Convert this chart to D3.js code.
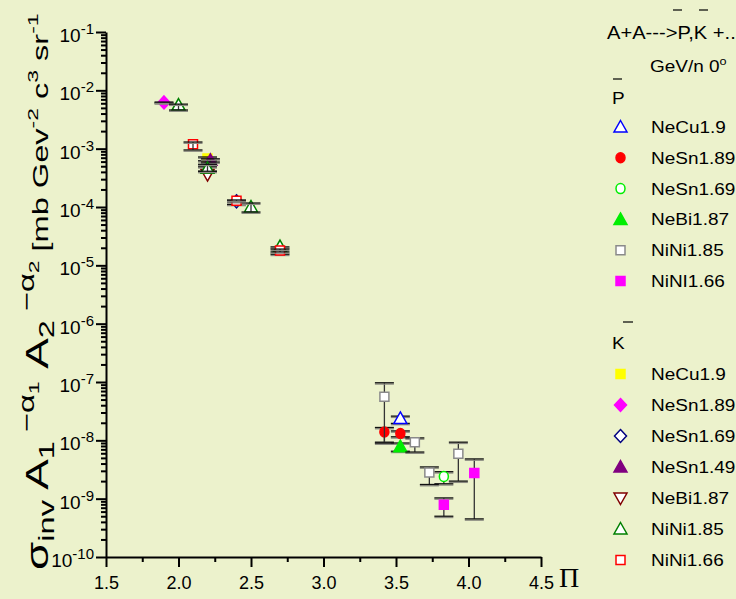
<!DOCTYPE html>
<html>
<head>
<meta charset="utf-8">
<script src="https://cdn.jsdelivr.net/npm/d3@7"></script>
<style>
  body { margin: 0; background: #ecf2cc; }
  svg { display: block; font-family: "Liberation Sans", Arial, sans-serif; }
</style>
</head>
<body>
<svg id="chart"></svg>
<script>
// each point: [x, y, yLow, yHigh]
// antiprotons
const pNeCu19   = [[3.53, 2.37e-8, 1.95e-8, 2.6e-8]];
const pNeSn189  = [[3.42, 1.39e-8, 9.3e-9, 1.66e-8], [3.53, 1.31e-8, 1.15e-8, 1.45e-8]];
const pNeSn169  = [[3.83, 2.4e-9, 1.8e-9, 2.9e-9]];
const pNeBi187  = [[3.53, 7.8e-9, 6.5e-9, 9.0e-9]];
const pNiNi185  = [[3.42, 5.6e-8, 9.0e-9, 9.7e-8], [3.63, 9.3e-9, 6.3e-9, 1.1e-8],
                   [3.73, 2.8e-9, 1.75e-9, 3.5e-9], [3.93, 5.9e-9, 2.0e-9, 9.3e-9]];
const pNiNi166  = [[3.83, 7.9e-10, 5.0e-10, 1.03e-9], [4.04, 2.75e-9, 4.5e-10, 4.8e-9]];
// antikaons
const kNeCu19   = [[2.2, 6.8e-4, 6.2e-4, 7.2e-4]];
const kNeSn189  = [[1.9, 6.2e-3, 6.1e-3, 6.3e-3]];
const kNeSn169  = [[2.4, 1.25e-4, 1.11e-4, 1.28e-4]];
const kNeSn149  = [[2.22, 6.3e-4, 5.9e-4, 6.7e-4]];
const kNeBi187  = [[2.2, 3.6e-4, 4.1e-4, 4.9e-4]];
const kNiNi185  = [[2.0, 5.6e-3, 4.6e-3, 5.8e-3], [2.2, 4.6e-4, 4.1e-4, 5.4e-4],
                   [2.5, 1.0e-4, 8.2e-5, 1.17e-4], [2.7, 2.1e-5, 1.55e-5, 2.07e-5]];
const kNiNi166  = [[2.1, 1.19e-3, 9.5e-4, 1.3e-3], [2.4, 1.28e-4, 1.24e-4, 1.32e-4],
                   [2.7, 1.8e-5, 1.7e-5, 1.9e-5]];

const xTicks = [1.5, 2.0, 2.5, 3.0, 3.5, 4.0, 4.5];
const xMinorTicks = [1.75, 2.25, 2.75, 3.25, 3.75, 4.25];
const yExponents = [-1, -2, -3, -4, -5, -6, -7, -8, -9, -10];

const pSeries = [
  { name: "NeCu1.9",  shape: "triUp",   fill: "#ffffff", stroke: "#0000ff", data: pNeCu19 },
  { name: "NeSn1.89", shape: "circle",  fill: "#ff0000", stroke: "#ff0000", data: pNeSn189 },
  { name: "NeSn1.69", shape: "circle",  fill: "#ffffff", stroke: "#00ee00", data: pNeSn169 },
  { name: "NeBi1.87", shape: "triUp",   fill: "#00ee00", stroke: "#00ee00", data: pNeBi187 },
  { name: "NiNi1.85", shape: "square",  fill: "#ffffff", stroke: "#8a8a8a", data: pNiNi185 },
  { name: "NiNI1.66", shape: "square",  fill: "#ff00ff", stroke: "#ff00ff", data: pNiNi166 }
];
const kSeries = [
  { name: "NeCu1.9",  shape: "square",  fill: "#ffff00", stroke: "#ffff00", data: kNeCu19 },
  { name: "NeSn1.89", shape: "diamond", fill: "#ff00ff", stroke: "#ff00ff", data: kNeSn189 },
  { name: "NeSn1.69", shape: "diamond", fill: "#ffffff", stroke: "#000080", data: kNeSn169 },
  { name: "NeSn1.49", shape: "triUp",   fill: "#800080", stroke: "#800080", data: kNeSn149 },
  { name: "NeBi1.87", shape: "triDown", fill: "#ffffff", stroke: "#800000", data: kNeBi187 },
  { name: "NiNi1.85", shape: "triUp",   fill: "#ffffff", stroke: "#008000", data: kNiNi185 },
  { name: "NiNi1.66", shape: "square",  fill: "#ffffff", stroke: "#ff0000", data: kNiNi166 }
];

const width = 736, height = 599;
const margin = { top: 32, right: 195, bottom: 42, left: 106 };

const svg = d3.select("#chart").attr("width", width).attr("height", height);
svg.append("rect").attr("width", width).attr("height", height).attr("fill", "#ecf2cc");

const x = d3.scaleLinear().domain([1.5, 4.5]).range([margin.left, width - margin.right]);
const y = d3.scaleLog().domain([1e-10, 1e-1]).range([height - margin.bottom, margin.top]);

function markerPath(shape) {
  switch (shape) {
    case "triUp":   return "M0,-6.5L6.5,5L-6.5,5Z";
    case "triDown": return "M0,6.5L6.5,-5L-6.5,-5Z";
    case "square":  return "M-4.5,-4.5H4.5V4.5H-4.5Z";
    case "diamond": return "M0,-6.5L6,0L0,6.5L-6,0Z";
    default:        return "M0,-5A4.5,5 0 1,1 0,5A4.5,5 0 1,1 0,-5Z";
  }
}

// axes
const xAxis = svg.append("g")
  .attr("transform", `translate(0,${y(1e-10)})`)
  .call(d3.axisBottom(x).tickValues(xTicks).tickSize(10).tickSizeOuter(0).tickPadding(9)
    .tickFormat(d3.format(".1f")));
svg.append("g")
  .attr("transform", `translate(0,${y(1e-10)})`)
  .call(d3.axisBottom(x).tickValues(xMinorTicks).tickSize(5).tickFormat(""))
  .select(".domain").remove();

svg.append("g")
  .attr("transform", `translate(${x(1.5)},0)`)
  .call(d3.axisLeft(y).tickValues(yExponents.map(e => Math.pow(10, e))).tickSize(10)
    .tickSizeOuter(0).tickFormat(""));
const minors = y.ticks().filter(v => Math.abs(Math.log10(v) - Math.round(Math.log10(v))) > 1e-6);
svg.append("g")
  .attr("transform", `translate(${x(1.5)},0)`)
  .call(d3.axisLeft(y).tickValues(minors).tickSize(5).tickFormat(""))
  .select(".domain").remove();

svg.selectAll(".domain").attr("stroke", "#000").attr("stroke-width", 2);
svg.selectAll(".tick line").attr("stroke", "#000").attr("stroke-width", 2);
xAxis.selectAll(".tick text").style("font-size", "18px").attr("fill", "#000")
  .style("font-family", "'Liberation Sans', Arial, sans-serif");

// y tick labels 10^e
const yLab = svg.append("g").style("font-size", "19px").attr("text-anchor", "end");
yExponents.forEach(e => {
  const t = yLab.append("text").attr("x", 94).attr("y", y(Math.pow(10, e)) + 10);
  t.append("tspan").text("10");
  t.append("tspan").style("font-size", "15px").attr("dy", -8).text(e);
});

// y axis title
const yt = svg.append("text").attr("transform", "translate(48,570) rotate(-90) scale(1.48,1)")
  .style("font-size", "31px").attr("fill", "#000");
yt.append("tspan").text("σ");
yt.append("tspan").style("font-size", "22px").attr("dy", 6).text("inv");
yt.append("tspan").attr("dy", -6).text(" A");
yt.append("tspan").style("font-size", "22px").attr("dy", 6).text("1");
yt.append("tspan").style("font-size", "22px").attr("dy", -20).text(" −α");
yt.append("tspan").style("font-size", "15.5px").attr("dy", 5).text("1");
yt.append("tspan").attr("dy", 9).text(" A");
yt.append("tspan").style("font-size", "22px").attr("dy", 6).text("2");
yt.append("tspan").style("font-size", "22px").attr("dy", -20).text(" −α");
yt.append("tspan").style("font-size", "15.5px").attr("dy", 5).text("2");
yt.append("tspan").style("font-size", "22px").attr("dy", 9).text(" [mb  Gev");
yt.append("tspan").style("font-size", "15.5px").attr("dy", -10).text("-2");
yt.append("tspan").style("font-size", "22px").attr("dy", 10).text(" c");
yt.append("tspan").style("font-size", "15.5px").attr("dy", -10).text("3");
yt.append("tspan").style("font-size", "22px").attr("dy", 10).text(" sr");
yt.append("tspan").style("font-size", "15.5px").attr("dy", -10).text("-1");

// x axis title
svg.append("text").attr("x", x(4.5) + 18).attr("y", y(1e-10) + 30)
  .style("font-family", "'Liberation Serif', 'Times New Roman', serif").style("font-size", "28px")
  .text("Π");

// data
const plot = svg.append("g");
function drawErrors(g, s) {
  s.data.forEach(d => {
    const cx = x(d[0]);
    g.append("line").attr("x1", cx).attr("x2", cx).attr("y1", y(d[2])).attr("y2", y(d[3]))
      .attr("stroke", "#333").attr("stroke-width", 1.3);
    [d[2], d[3]].forEach(v => {
      g.append("line").attr("x1", cx - 9.5).attr("x2", cx + 9.5)
        .attr("y1", y(v) + 1.3).attr("y2", y(v) + 1.3).attr("stroke", "#8a8a80").attr("stroke-width", 1.3);
      g.append("line").attr("x1", cx - 9.5).attr("x2", cx + 9.5)
        .attr("y1", y(v)).attr("y2", y(v)).attr("stroke", "#111").attr("stroke-width", 1.3);
    });
  });
}
function drawMarkers(g, s) {
  g.selectAll(null).data(s.data).enter().append("path")
    .attr("transform", d => `translate(${x(d[0])},${y(d[1])})`)
    .attr("d", markerPath(s.shape))
    .attr("fill", s.fill).attr("stroke", s.stroke).attr("stroke-width", 1.5);
}
pSeries.forEach(s => { drawErrors(plot, s); drawMarkers(plot, s); });
kSeries.forEach(s => { drawMarkers(plot, s); drawErrors(plot, s); });

// legend
const lg = svg.append("g").style("font-size", "16.5px").attr("fill", "#000");
function stretchText(tx, ty, str) {
  return lg.append("text").attr("transform", `translate(${tx},${ty}) scale(1.15,1)`).text(str);
}
stretchText(607, 39, "A+A--->P,K +...").style("font-size", "17.5px");
lg.append("line").attr("x1", 673).attr("x2", 682).attr("y1", 10).attr("y2", 10).attr("stroke", "#000").attr("stroke-width", 1.2);
lg.append("line").attr("x1", 699).attr("x2", 708).attr("y1", 10).attr("y2", 10).attr("stroke", "#000").attr("stroke-width", 1.2);
const gev = stretchText(650, 72, "GeV/n  0");
gev.append("tspan").style("font-size", "11px").attr("dy", -7).text("o");
stretchText(612, 104, "P");
lg.append("line").attr("x1", 613).attr("x2", 622).attr("y1", 79).attr("y2", 79).attr("stroke", "#000").attr("stroke-width", 1.2);
stretchText(612, 349, "K");
lg.append("line").attr("x1", 623).attr("x2", 633).attr("y1", 322).attr("y2", 322).attr("stroke", "#000").attr("stroke-width", 1.2);

pSeries.forEach((s, i) => {
  const ry = 127 + i * 30.8;
  lg.append("path").attr("transform", `translate(620.5,${ry})`).attr("d", markerPath(s.shape))
    .attr("fill", s.fill).attr("stroke", s.stroke).attr("stroke-width", 1.5);
  stretchText(651, ry + 6, s.name);
});
kSeries.forEach((s, i) => {
  const ry = 374 + i * 31;
  lg.append("path").attr("transform", `translate(620.5,${ry})`).attr("d", markerPath(s.shape))
    .attr("fill", s.fill).attr("stroke", s.stroke).attr("stroke-width", 1.5);
  stretchText(651, ry + 6, s.name);
});
</script>
</body>
</html>
